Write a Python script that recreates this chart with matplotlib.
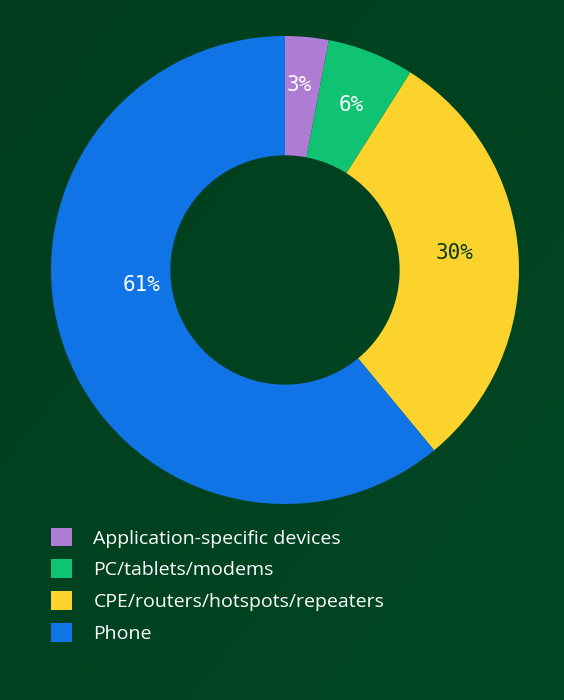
import numpy as np
import matplotlib
matplotlib.use("Agg")
import matplotlib.pyplot as plt
from matplotlib.patches import Patch

# share of devices by type (%)
categories = ["Application-specific devices", "PC/tablets/modems",
              "CPE/routers/hotspots/repeaters", "Phone"]
shares = [3, 6, 30, 61]
colors = ["#AF7CD3", "#0FC373", "#FCD32D", "#1174E6"]
label_colors = ["white", "white", "#0B3B1F", "white"]
# where each percentage label sits, in pie units (x, y)
label_pos = [(0.062, 0.79), (0.282, 0.707), (0.726, 0.073), (-0.611, -0.062)]

bg = "#00421F"
fig = plt.figure(figsize=(5.64, 7.0), dpi=100)
fig.patch.set_facecolor(bg)

# faint diagonal gradient behind everything
bgax = fig.add_axes([0, 0, 1, 1], zorder=-10)
grad = np.linspace(0, 1, 200)
gx, gy = np.meshgrid(grad, grad)
bgax.imshow(gx * 0.5 + gy * 0.5, cmap=matplotlib.colors.LinearSegmentedColormap.from_list(
    "g", ["#003E1E", "#004723"]), aspect="auto", extent=[0, 1, 0, 1])
bgax.axis("off")

ax = fig.add_axes([51 / 564, 196 / 700, 468 / 564, 468 / 700])
ax.set_facecolor("none")
wedges, texts, autotexts = ax.pie(
    shares, colors=colors, startangle=90, counterclock=False,
    wedgeprops=dict(width=0.51, linewidth=0),
    autopct="%d%%", pctdistance=0.75,
    textprops=dict(family="DejaVu Sans Mono", fontsize=15))
for t, c, p in zip(autotexts, label_colors, label_pos):
    t.set_color(c)
    t.set_position(p)
ax.set_xlim(-1, 1)
ax.set_ylim(-1, 1)
ax.set_aspect("equal")

handles = [Patch(facecolor=c, edgecolor="none") for c in colors]
leg = fig.legend(handles, categories, loc="upper left",
                 bbox_to_anchor=(33 / 564, 1 - 510 / 700),
                 frameon=False, handlelength=1.12,
                 handleheight=1.12, handletextpad=1.08, labelspacing=0.6,
                 prop=dict(family="Open Sans", size=14))
for t in leg.get_texts():
    t.set_color("white")

fig.savefig("out.png", dpi=100, facecolor=bg)
